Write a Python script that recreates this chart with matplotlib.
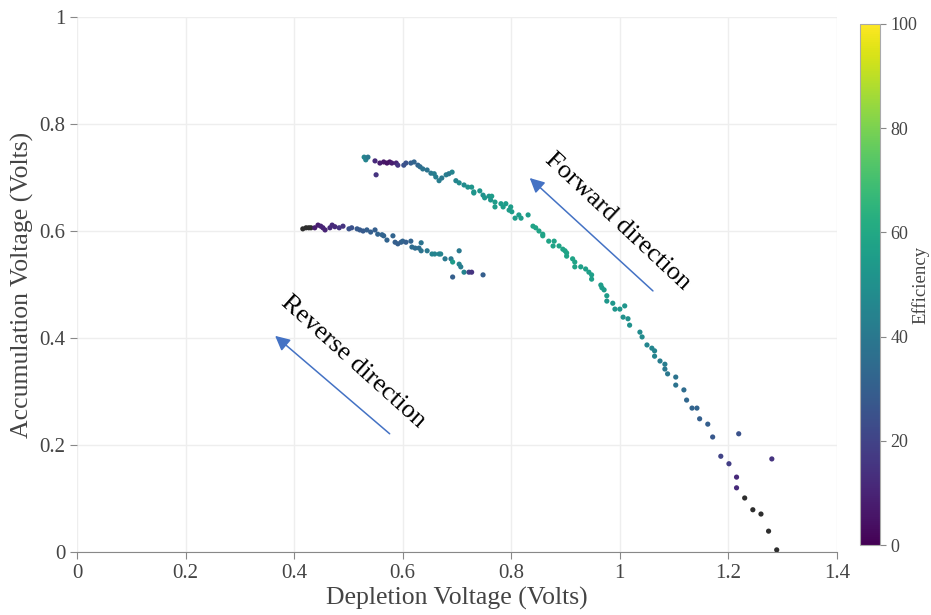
import matplotlib
matplotlib.use("Agg")
import matplotlib.pyplot as plt
import numpy as np
from matplotlib.ticker import FuncFormatter

plt.rcParams['font.family'] = ['Liberation Serif', 'DejaVu Serif']

# forward sweep (upper branch): depletion V, accumulation V, efficiency (%)
fwd_x = [0.529, 0.532, 0.536, 0.549, 0.551, 0.558, 0.565, 0.571, 0.576, 0.580,
         0.588, 0.591, 0.602, 0.606, 0.615, 0.621, 0.628, 0.632, 0.637, 0.645,
         0.652, 0.658, 0.661, 0.667, 0.672, 0.680, 0.685, 0.691, 0.698, 0.704,
         0.713, 0.720, 0.727, 0.731, 0.731, 0.742, 0.748, 0.751, 0.759, 0.764,
         0.762, 0.770, 0.770, 0.781, 0.785, 0.790, 0.796, 0.799, 0.801, 0.807,
         0.814, 0.818, 0.831, 0.840, 0.845, 0.851, 0.858, 0.858, 0.869, 0.879,
         0.877, 0.888, 0.895, 0.899, 0.902, 0.902, 0.913, 0.917, 0.917, 0.928,
         0.937, 0.943, 0.948, 0.948, 0.965, 0.967, 0.971, 0.976, 0.976, 0.987,
         0.991, 1.000, 1.009, 1.006, 1.015, 1.018,
         1.037, 1.041, 1.050, 1.059, 1.064, 1.064, 1.074, 1.083, 1.083, 1.088,
         1.103, 1.103, 1.118, 1.123, 1.133, 1.142, 1.147, 1.162, 1.171, 1.219,
         1.186, 1.201, 1.215, 1.215, 1.230, 1.245, 1.260, 1.280, 1.274, 1.289]
fwd_y = [0.738, 0.733, 0.738, 0.731, 0.705, 0.727, 0.729, 0.727, 0.729, 0.727,
         0.727, 0.723, 0.723, 0.727, 0.727, 0.729, 0.723, 0.720, 0.716, 0.714,
         0.708, 0.707, 0.701, 0.694, 0.699, 0.705, 0.707, 0.710, 0.694, 0.690,
         0.686, 0.682, 0.682, 0.671, 0.673, 0.675, 0.667, 0.662, 0.665, 0.665,
         0.658, 0.654, 0.645, 0.651, 0.645, 0.651, 0.639, 0.645, 0.636, 0.624,
         0.630, 0.624, 0.630, 0.609, 0.606, 0.600, 0.594, 0.591, 0.581, 0.581,
         0.572, 0.572, 0.566, 0.563, 0.559, 0.553, 0.548, 0.542, 0.533, 0.533,
         0.529, 0.523, 0.518, 0.510, 0.499, 0.494, 0.490, 0.479, 0.469, 0.465,
         0.454, 0.454, 0.460, 0.439, 0.436, 0.424,
         0.411, 0.402, 0.387, 0.381, 0.376, 0.366, 0.357, 0.351, 0.342, 0.333,
         0.327, 0.312, 0.303, 0.284, 0.269, 0.269, 0.249, 0.239, 0.215, 0.221,
         0.179, 0.165, 0.140, 0.120, 0.101, 0.079, 0.071, 0.174, 0.039, 0.004]
fwd_eff = [45, 45, 40, 12, 15, 8, 6, 5, 5, 8,
           10, 15, 25, 25, 30, 32, 32, 35, 38, 38,
           40, 42, 42, 42, 40, 42, 40, 45, 45, 48,
           48, 50, 52, 52, 52, 52, 50, 52, 52, 55,
           52, 55, 55, 55, 55, 55, 55, 55, 55, 55,
           55, 55, 55, 58, 58, 58, 58, 58, 58, 58,
           58, 58, 58, 58, 58, 58, 58, 58, 58, 56,
           56, 56, 56, 56, 55, 55, 55, 55, 53, 53,
           52, 52, 52, 50, 50, 50,
           48, 48, 46, 46, 45, 45, 42, 42, 40, 40,
           38, 38, 35, 33, 32, 32, 30, 30, 27, 25,
           20, 18, 12, 12, -5, -5, -5, 15, -5, -5]

# reverse sweep (lower branch)
rev_x = [0.416, 0.422, 0.427, 0.431, 0.438, 0.444, 0.449, 0.453, 0.457, 0.466,
         0.470, 0.475, 0.483, 0.490, 0.501, 0.506, 0.516, 0.521, 0.527, 0.534,
         0.541, 0.549, 0.554, 0.562, 0.565, 0.571, 0.582, 0.586, 0.591, 0.597,
         0.600, 0.606, 0.615, 0.617, 0.623, 0.630, 0.634, 0.634, 0.645, 0.654,
         0.659, 0.667, 0.670, 0.678, 0.689, 0.692, 0.704, 0.704, 0.707, 0.713,
         0.692, 0.722, 0.727, 0.748]
rev_y = [0.604, 0.606, 0.606, 0.606, 0.606, 0.611, 0.609, 0.606, 0.602, 0.606,
         0.611, 0.608, 0.606, 0.609, 0.604, 0.606, 0.604, 0.602, 0.600, 0.602,
         0.598, 0.602, 0.594, 0.593, 0.591, 0.583, 0.591, 0.579, 0.576, 0.579,
         0.581, 0.579, 0.581, 0.570, 0.568, 0.568, 0.578, 0.563, 0.563, 0.557,
         0.557, 0.557, 0.557, 0.548, 0.548, 0.542, 0.563, 0.538, 0.533, 0.523,
         0.514, 0.523, 0.523, 0.518]
rev_eff = [-5, -5, -5, -5, 8, 8, 10, 10, 10, 12,
           12, 12, 15, 15, 25, 25, 28, 28, 28, 30,
           30, 30, 32, 32, 32, 32, 32, 30, 30, 30,
           32, 30, 32, 35, 35, 35, 38, 38, 40, 45,
           45, 45, 45, 40, 40, 55, 40, 45, 42, 45,
           30, 20, 15, 30]

fig = plt.figure(figsize=(9.31, 6.15), dpi=100)
ax = fig.add_axes([0.0827, 0.1024, 0.8163, 0.870])
cax = fig.add_axes([0.9237, 0.1138, 0.0215, 0.8472])

cmap = plt.get_cmap('viridis').copy()
cmap.set_under('#2e2e2e')

sc = ax.scatter(fwd_x, fwd_y, c=fwd_eff, cmap=cmap, vmin=0, vmax=100,
                s=14, linewidths=0, zorder=3)
ax.scatter(rev_x, rev_y, c=rev_eff, cmap=cmap, vmin=0, vmax=100,
           s=14, linewidths=0, zorder=3)

ax.set_xlim(0, 1.4)
ax.set_ylim(0, 1)
ax.set_xticks(np.arange(0, 1.41, 0.2))
ax.set_yticks(np.arange(0, 1.01, 0.2))
fmt = FuncFormatter(lambda v, p: '%g' % round(v, 2))
ax.xaxis.set_major_formatter(fmt)
ax.yaxis.set_major_formatter(fmt)
ax.grid(True, color='#eeeeee', linewidth=1)
ax.set_axisbelow(True)
for side in ['top', 'right', 'left']:
    ax.spines[side].set_visible(False)
ax.spines['bottom'].set_color('#888888')
ax.tick_params(axis='both', colors='#888888', labelcolor='#444444',
               labelsize=15, length=5)
ax.set_xlabel('Depletion Voltage (Volts)', fontsize=18.5, color='#444444',
              labelpad=3)
ax.set_ylabel('Accumulation Voltage (Volts)', fontsize=18.5, color='#444444',
              labelpad=4)

# sweep direction arrows
arrow_style = dict(arrowstyle='-|>', color='#4472c4', lw=1.1,
                   mutation_scale=22, shrinkA=0, shrinkB=0)
ax.annotate('', xy=(0.834, 0.699), xytext=(1.061, 0.488), arrowprops=arrow_style)
ax.annotate('', xy=(0.365, 0.404), xytext=(0.576, 0.221), arrowprops=arrow_style)
ax.text(0.996, 0.617, 'Forward direction', rotation=-43, fontsize=19,
        ha='center', va='center', rotation_mode='anchor')
ax.text(0.508, 0.356, 'Reverse direction', rotation=-42, fontsize=19,
        ha='center', va='center', rotation_mode='anchor')

cb = fig.colorbar(sc, cax=cax, ticks=[0, 20, 40, 60, 80, 100])
cb.outline.set_edgecolor('#aaaaaa')
cb.ax.tick_params(colors='#888888', labelcolor='#444444', labelsize=13, length=4)
cb.set_label('Efficiency', fontsize=13.5, color='#444444', labelpad=-4)

fig.savefig('out.png', dpi=100)
